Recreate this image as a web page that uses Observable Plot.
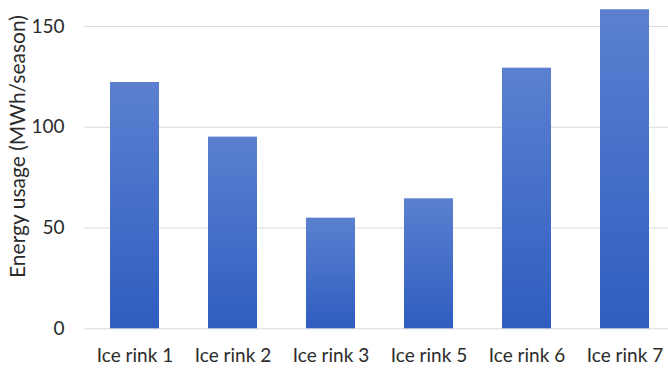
<!DOCTYPE html>
<html>
<head>
<meta charset="utf-8">
<script src="https://cdn.jsdelivr.net/npm/d3@7"></script>
<script src="https://cdn.jsdelivr.net/npm/@observablehq/plot@0.6"></script>
<style>
  html, body { margin: 0; padding: 0; background: #fff; overflow: hidden; }
  #chart svg { display: block; overflow: hidden; }
</style>
</head>
<body>
<div id="chart"></div>
<script>
const categories = ["Ice rink 1", "Ice rink 2", "Ice rink 3", "Ice rink 5", "Ice rink 6", "Ice rink 7"];
const energy = [122.2, 95.1, 54.9, 64.5, 129.3, 158.3];
const yTicks = [0, 50, 100, 150];
const yTitle = "Energy usage (MWh/season)";

const data = categories.map((c, i) => ({category: c, value: energy[i]}));

const chart = Plot.plot({
  width: 668,
  height: 371,
  marginTop: 5.8,
  marginBottom: 42.7,
  marginLeft: 84,
  marginRight: 0,
  style: {fontFamily: "Lato, 'Open Sans', sans-serif", fontSize: "19px", color: "#2b2b2b", background: "#fff"},
  x: {domain: categories, range: [84, 674.4], paddingInner: 0.5, paddingOuter: 0.25, label: null},
  y: {domain: [0, 160], label: null},
  marks: [
    Plot.gridY(yTicks, {stroke: "#d9d9d9", strokeOpacity: 1, strokeWidth: 1}),
    Plot.barY(data, {x: "category", y: "value", fill: "url(#barGrad)", style: "filter: drop-shadow(1px 1px 1.5px rgba(0,0,0,0.25))"}),
    Plot.axisY(yTicks, {tickSize: 0, tickPadding: 20, fontSize: 19, label: null}),
    Plot.axisX({tickSize: 0, tickPadding: 20, fontSize: 19, label: null}),
    Plot.text([yTitle], {frameAnchor: "left", textAnchor: "middle", rotate: -90, dx: -66, dy: -21, fontSize: 21, fill: "#2b2b2b"})
  ]
});

const svg = d3.select(chart);
const defs = svg.insert("defs", ":first-child");
const grad = defs.append("linearGradient")
  .attr("id", "barGrad").attr("x1", 0).attr("y1", 0).attr("x2", 0).attr("y2", 1);
grad.append("stop").attr("offset", "0%").attr("stop-color", "#5b80d0");
grad.append("stop").attr("offset", "100%").attr("stop-color", "#2f5ec0");

document.getElementById("chart").appendChild(chart);
</script>
</body>
</html>
